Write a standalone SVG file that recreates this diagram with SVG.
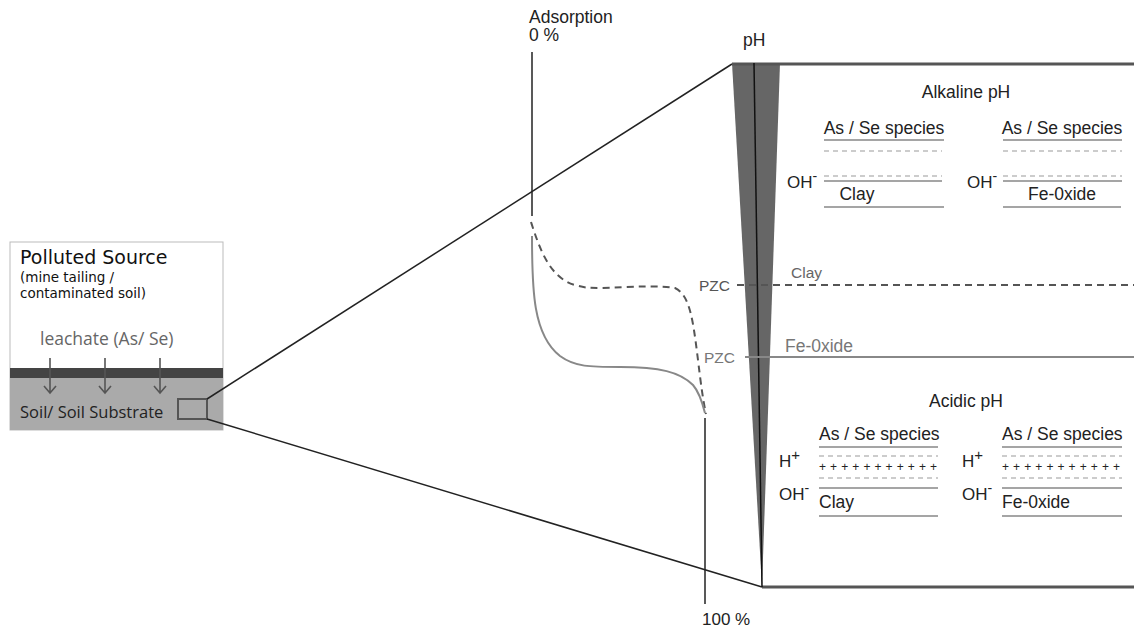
<svg xmlns="http://www.w3.org/2000/svg" width="1134" height="630" viewBox="0 0 1134 630">
<defs>
<style>
.t{font-family:"Liberation Sans",Arial,sans-serif;fill:#222}
.m{font-family:"Open Sans","Noto Sans",sans-serif}
.d{font-family:"DejaVu Sans",sans-serif;fill:#111}
.ln{stroke:#888;stroke-width:1.5;fill:none}
.dl{stroke:#999;stroke-width:1;stroke-dasharray:5 4;fill:none}
.arr{stroke:#555;stroke-width:1.6;fill:none}
</style>
</defs>
<rect width="1134" height="630" fill="#fff"/>

<g id="source">
<rect x="10" y="242" width="213" height="188" fill="#fff" stroke="#bbb" stroke-width="1"/>
<rect x="10" y="378" width="213" height="52" fill="#aaa"/>
<rect x="10" y="368" width="213" height="10" fill="#444"/>
<text class="d" x="20" y="264" font-size="19">Polluted Source</text>
<text class="d" x="20" y="282" font-size="13.5">(mine tailing /</text>
<text class="d" x="20" y="298" font-size="13.5">contaminated soil)</text>
<text class="m" x="40" y="345" font-size="17.5" fill="#666">leachate (As/ Se)</text>
<g class="arr">
<path d="M50,358V393M44,386L50,393L56,386"/>
<path d="M105,358V393M99,386L105,393L111,386"/>
<path d="M160,358V393M154,386L160,393L166,386"/>
</g>
<text class="m" x="20" y="418" font-size="16.5" fill="#222">Soil/ Soil Substrate</text>
<rect x="178" y="399" width="29" height="20" fill="none" stroke="#555" stroke-width="2"/>
</g>

<g id="connectors" fill="none">
<path d="M207,399L732,64" stroke="#222" stroke-width="1.5"/>
<path d="M207,419L762,587" stroke="#222" stroke-width="1.5"/>
<path d="M532,52V216" stroke="#222" stroke-width="1.5"/>
<path d="M705,418V604" stroke="#222" stroke-width="1.5"/>
<path d="M531,222C540,250 550,278 575,285C585,288 590,288 600,288C630,287 660,285 675,288C690,295 693,320 698,360C701,385 703,400 706,414" stroke="#555" stroke-width="2" stroke-dasharray="7 5"/>
<path d="M532,236C532,290 533,335 560,356C575,367 590,367 620,367C660,367 680,372 693,385C700,393 703,405 705,413" stroke="#888" stroke-width="2"/>
</g>

<g id="axis-labels">
<text class="t" x="529" y="23" font-size="17.5">Adsorption</text>
<text class="t" x="529" y="41" font-size="17.5">0 %</text>
<text class="t" x="702" y="625" font-size="17">100 %</text>
<text class="t" x="743" y="46" font-size="17.5">pH</text>
</g>

<g id="ph-scale">
<polygon points="732,63 780,63 762,587" fill="#666"/>
<path d="M732,64H1134" stroke="#555" stroke-width="3"/>
<path d="M762,587H1134" stroke="#555" stroke-width="3"/>
<path d="M754,63L762,587" stroke="#111" stroke-width="1.5"/>
</g>

<g id="pzc-clay">
<path d="M737,285H1134" stroke="#555" stroke-width="2" stroke-dasharray="7 5"/>
<text class="t" x="699" y="291" font-size="15.5" style="fill:#555">PZC</text>
<text class="t" x="791" y="278" font-size="15.5" style="fill:#666">Clay</text>
</g>
<g id="pzc-fe">
<path d="M745,357H1134" stroke="#888" stroke-width="2"/>
<text class="t" x="704" y="363" font-size="15.5" style="fill:#777">PZC</text>
<text class="t" x="785" y="352" font-size="17.5" style="fill:#777">Fe-0xide</text>
</g>

<g id="alkaline">
<text class="t" x="966" y="98" font-size="17.5" text-anchor="middle">Alkaline pH</text>
<text class="t" x="884" y="134" font-size="17.5" text-anchor="middle">As / Se species</text>
<path class="ln" d="M824,140H944M824,181H942M824,207H944"/>
<path class="dl" d="M824,151H942M824,176H942"/>
<text class="t" x="787" y="188" font-size="17">OH<tspan font-size="14" dy="-7">-</tspan></text>
<text class="t" x="857" y="200" font-size="17.5" text-anchor="middle">Clay</text>
<text class="t" x="1062" y="134" font-size="17.5" text-anchor="middle">As / Se species</text>
<path class="ln" d="M1003,140H1122M1003,181H1122M1003,207H1121"/>
<path class="dl" d="M1003,151H1122M1003,176H1122"/>
<text class="t" x="967" y="188" font-size="17">OH<tspan font-size="14" dy="-7">-</tspan></text>
<text class="t" x="1062" y="200" font-size="17.5" text-anchor="middle">Fe-0xide</text>
</g>

<g id="acidic">
<text class="t" x="966" y="407" font-size="17.5" text-anchor="middle">Acidic pH</text>
<text class="t" x="819" y="440" font-size="17.5">As / Se species</text>
<path class="ln" d="M819,447H938M819,488H938M819,516H938"/>
<path class="dl" d="M819,456H938M819,478H938"/>
<text class="t" x="819" y="471" font-size="12" textLength="118" lengthAdjust="spacing">+++++++++++</text>
<text class="t" x="779" y="467" font-size="17">H<tspan font-size="15" dy="-7">+</tspan></text>
<text class="t" x="779" y="500" font-size="17">OH<tspan font-size="14" dy="-7">-</tspan></text>
<text class="t" x="819" y="508" font-size="17.5">Clay</text>
<text class="t" x="1002" y="440" font-size="17.5">As / Se species</text>
<path class="ln" d="M1002,447H1122M1002,488H1122M1002,516H1122"/>
<path class="dl" d="M1002,456H1122M1002,478H1122"/>
<text class="t" x="1002" y="471" font-size="12" textLength="118" lengthAdjust="spacing">+++++++++++</text>
<text class="t" x="962" y="467" font-size="17">H<tspan font-size="15" dy="-7">+</tspan></text>
<text class="t" x="962" y="500" font-size="17">OH<tspan font-size="14" dy="-7">-</tspan></text>
<text class="t" x="1002" y="508" font-size="17.5">Fe-0xide</text>
</g>
</svg>
